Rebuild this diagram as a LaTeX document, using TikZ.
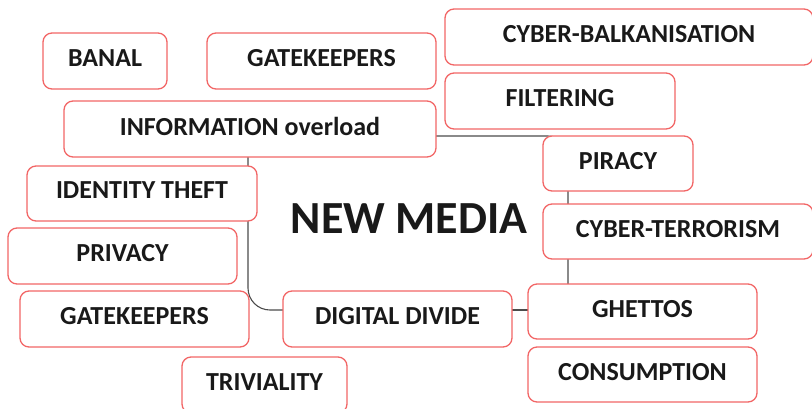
\documentclass[tikz,border=0pt]{standalone}
\usepackage{fontspec}
\setmainfont{Carlito}
\begin{document}
\begin{tikzpicture}[x=1pt,y=-1pt,
  concept/.style={draw=boxred, line width=1.3pt, rounded corners=9pt, fill=white,
    inner sep=0pt, text depth=6pt, font=\fontsize{26}{30}\selectfont\bfseries, text=black!90},
  link/.style={draw=black!70, line width=1.1pt}]
\definecolor{boxred}{HTML}{F26666}
\clip (0,0) rectangle (812,408);
\useasboundingbox (0,0) rectangle (812,408);

% trunk lines, drawn first so the boxes cover them
\coordinate (infoR) at (436,136);
\coordinate (infoB) at (248,157);
\coordinate (trunkR) at (568,136);
\coordinate (trunkL) at (248,310);
\coordinate (ddL) at (283,310);
\coordinate (ddR) at (512,310);
\coordinate (ghL) at (528,310);
\coordinate (ghT) at (568,284);
\draw[link, rounded corners=20pt] (infoR) -- (trunkR) -- (ghT);
\draw[link, rounded corners=22pt] (infoB) -- (trunkL) -- (ddL);
\draw[link] (ddR) -- (ghL);

% concept boxes
\node[concept, minimum width=124pt, minimum height=56pt] (banal) at (105,61) {BANAL};
\node[concept, minimum width=229pt, minimum height=56pt] (gate1) at (321.5,61) {GATEKEEPERS};
\node[concept, minimum width=372pt, minimum height=56pt] (info) at (250,129) {INFORMATION overload};
\node[concept, minimum width=230pt, minimum height=55pt] (ident) at (142,193.5) {IDENTITY THEFT};
\node[concept, minimum width=229pt, minimum height=56pt] (priv) at (122.5,256) {PRIVACY};
\node[concept, minimum width=229pt, minimum height=56pt] (gate2) at (134.5,319) {GATEKEEPERS};
\node[concept, minimum width=165pt, minimum height=56pt] (triv) at (264.5,385) {TRIVIALITY};
\node[concept, minimum width=229pt, minimum height=56pt] (dd) at (397.5,319) {DIGITAL DIVIDE};
\node[concept, minimum width=368pt, minimum height=56pt] (cybb) at (629,37) {CYBER-BALKANISATION};
\node[concept, minimum width=230pt, minimum height=56pt] (filt) at (560,101) {FILTERING};
\node[concept, minimum width=150pt, minimum height=55pt] (pir) at (618,163.5) {PIRACY};
\node[concept, minimum width=270pt, minimum height=55pt] (cybt) at (678,231.5) {CYBER-TERRORISM};
\node[concept, minimum width=229pt, minimum height=55pt] (ghet) at (642.5,311.5) {GHETTOS};
\node[concept, minimum width=229pt, minimum height=55pt] (cons) at (642.5,374.5) {CONSUMPTION};

% central topic
\node[font=\fontsize{46}{50}\selectfont\bfseries, text=black!90] (centre) at (409,219) {NEW MEDIA};
\end{tikzpicture}
\end{document}
